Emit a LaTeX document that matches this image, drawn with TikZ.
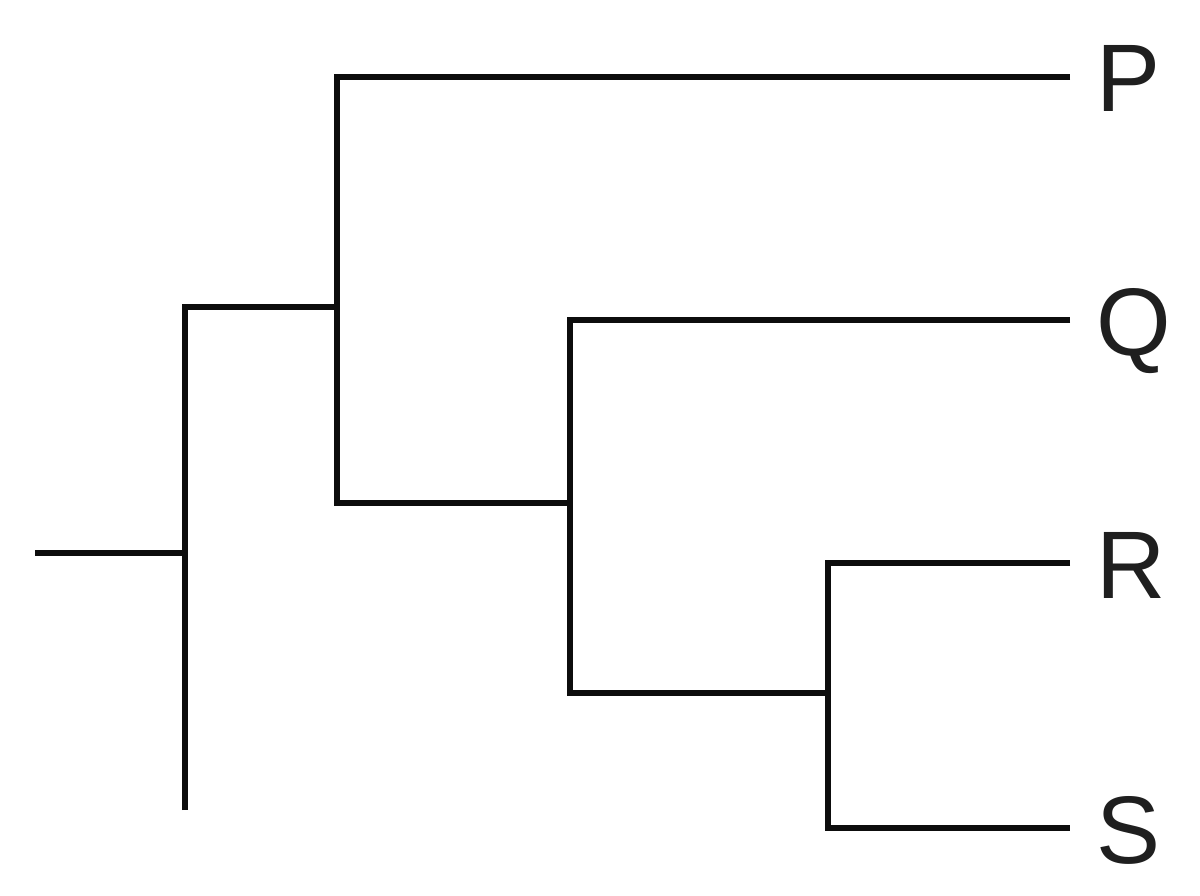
\documentclass[tikz,border=0pt]{standalone}
\usepackage{fontspec}
\setmainfont{Liberation Sans}
\begin{document}
\begin{tikzpicture}[x=1pt,y=-1pt,
  branch/.style={line width=6pt,line join=miter,line cap=butt,black!95},
  leaf/.style={anchor=base west,inner sep=0pt,font=\fontsize{96}{96}\selectfont,text=black!88}]
\useasboundingbox (0,0) rectangle (1200,896);
% internal node coordinates
\coordinate (root) at (35,553);
\coordinate (n1) at (185,553);
\coordinate (n1t) at (185,307);
\coordinate (n1b) at (185,810);
\coordinate (n2) at (337,307);
\coordinate (n2t) at (337,77);
\coordinate (n2b) at (337,503);
\coordinate (n3) at (570,503);
\coordinate (n3t) at (570,320);
\coordinate (n3b) at (570,693);
\coordinate (n4) at (828,693);
\coordinate (n4t) at (828,563);
\coordinate (n4b) at (828,828);
\coordinate (tP) at (1070,77);
\coordinate (tQ) at (1070,320);
\coordinate (tR) at (1070,563);
\coordinate (tS) at (1070,828);
% labels
\node[leaf] (P) at (1096,112) {P};
\node[leaf] (Q) at (1096,355) {Q};
\node[leaf] (R) at (1096,598) {R};
\node[leaf] (S) at (1096,863) {S};
% branches
\draw[branch] (root) -- (n1);
\draw[branch] (n1b) -- (n1t) -- (n2);
\draw[branch] (tP) -- (n2t) -- (n2b) -- (n3);
\draw[branch] (tQ) -- (n3t) -- (n3b) -- (n4);
\draw[branch] (tR) -- (n4t) -- (n4b) -- (tS);
\end{tikzpicture}
\end{document}
